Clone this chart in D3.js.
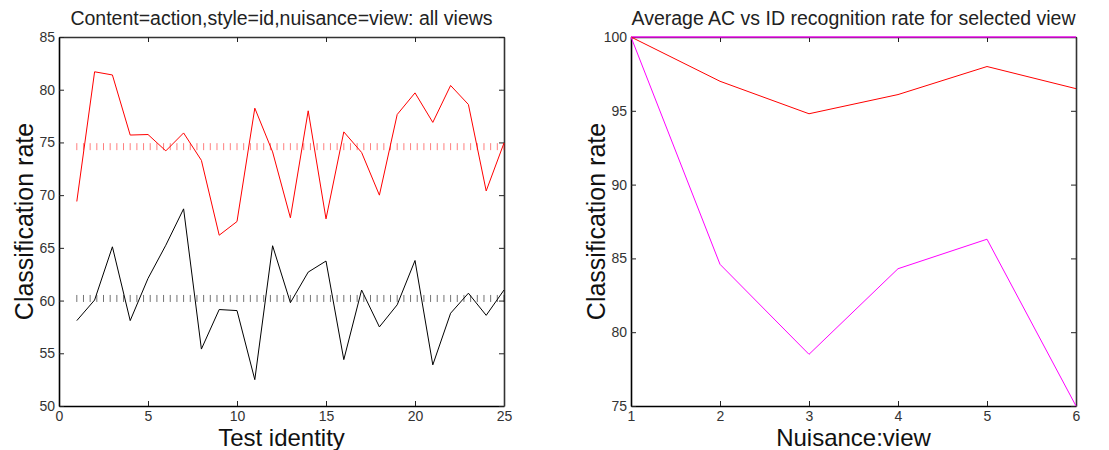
<!DOCTYPE html>
<html>
<head>
<meta charset="utf-8">
<script src="https://cdn.jsdelivr.net/npm/d3@7"></script>
<style>
  body { margin: 0; background: #fff; }
  svg text { font-family: "Liberation Sans", Arial, sans-serif; }
</style>
</head>
<body>
<div id="chart"></div>
<script>
// left panel: per-identity classification rate
const identities = d3.range(1, 26);
const actionRate = [69.4, 81.7, 81.4, 75.7, 75.75, 74.2, 75.9, 73.3, 66.2, 67.5, 78.25, 74.1, 67.85,
    78.0, 67.75, 76.0, 74.05, 70.0, 77.65, 79.7, 76.9, 80.4, 78.6, 70.4, 74.95];
const idRate = [58.1, 60.05, 65.1, 58.1, 62.1, 65.25, 68.7, 55.4, 59.15, 59.05, 52.5, 65.2, 59.8,
    62.7, 63.75, 54.4, 61.0, 57.5, 59.6, 63.8, 53.9, 58.8, 60.7, 58.6, 61.0];
const actionMean = 74.6;
const idMean = 60.2;
const leftTicksX = [0, 5, 10, 15, 20, 25];
const leftTicksY = [50, 55, 60, 65, 70, 75, 80, 85];

// right panel: average rate per view
const views = [1, 2, 3, 4, 5, 6];
const viewActionRate = [100, 97.0, 94.8, 96.1, 98.0, 96.5];
const viewIdRate = [100, 84.6, 78.5, 84.3, 86.3, 75.0];
const viewTopRate = [100, 100, 100, 100, 100, 100];
const rightTicksY = [75, 80, 85, 90, 95, 100];

const W = 1109, H = 450;
const svg = d3.select('#chart').append('svg')
    .attr('width', W)
    .attr('height', H);

function drawPanel(opts) {
    const { left, right, top, bottom, xDomain, yDomain, xTicks, yTicks, title, xLabel, yLabel } = opts;
    const x = d3.scaleLinear().domain(xDomain).range([left, right]);
    const y = d3.scaleLinear().domain(yDomain).range([bottom, top]);
    const g = svg.append('g');

    // box: left/bottom axes plus top/right frame, all with inward ticks
    const tickLen = 5;
    const axes = [
        { ax: d3.axisBottom(x).tickValues(xTicks), t: `translate(0,${bottom})`, labels: true, pad: 5 },
        { ax: d3.axisTop(x).tickValues(xTicks), t: `translate(0,${top})`, labels: false, pad: 5 },
        { ax: d3.axisLeft(y).tickValues(yTicks), t: `translate(${left},0)`, labels: true, pad: 4 },
        { ax: d3.axisRight(y).tickValues(yTicks), t: `translate(${right},0)`, labels: false, pad: 4 }
    ];
    axes.forEach((a, i) => {
        const ag = g.append('g')
            .attr('transform', a.t)
            .call(a.ax.tickSizeInner(-tickLen).tickSizeOuter(0).tickPadding(a.pad).tickFormat(d3.format('d')));
        ag.select('.domain').attr('stroke', i === 0 || i === 2 ? '#000' : '#333').attr('stroke-width', 1.6);
        ag.selectAll('.tick line').attr('stroke', '#222');
        ag.selectAll('.tick text')
            .attr('fill', '#333')
            .attr('font-size', 14)
            .style('display', a.labels ? null : 'none');
    });

    g.append('text')
        .attr('x', (left + right) / 2)
        .attr('y', top - 12)
        .attr('text-anchor', 'middle')
        .attr('font-size', 19.5)
        .attr('fill', '#222')
        .text(title);

    g.append('text')
        .attr('x', (left + right) / 2)
        .attr('y', bottom + 40)
        .attr('text-anchor', 'middle')
        .attr('font-size', 24)
        .attr('fill', '#111')
        .text(xLabel);

    g.append('text')
        .attr('transform', `translate(${left - 26},${(top + bottom) / 2}) rotate(-90)`)
        .attr('text-anchor', 'middle')
        .attr('font-size', 25)
        .attr('fill', '#111')
        .text(yLabel);

    return { g, x, y };
}

// ---- left panel
const L = drawPanel({
    left: 59, right: 504, top: 37, bottom: 406,
    xDomain: [0, 25], yDomain: [50, 85],
    xTicks: leftTicksX, yTicks: leftTicksY,
    title: 'Content=action,style=id,nuisance=view: all views',
    xLabel: 'Test identity',
    yLabel: 'Classification rate'
});

// mean markers drawn as rows of short vertical ticks
const meanSteps = d3.range(1, 25.001, 0.375);
[{ v: actionMean, c: '#ff0000', o: 0.5 }, { v: idMean, c: '#000', o: 0.55 }].forEach(m => {
    L.g.append('g').selectAll('line')
        .data(meanSteps)
        .join('line')
        .attr('x1', d => L.x(d))
        .attr('x2', d => L.x(d))
        .attr('y1', L.y(m.v) - 3.5)
        .attr('y2', L.y(m.v) + 3.5)
        .attr('stroke', m.c)
        .attr('stroke-opacity', m.o)
        .attr('stroke-width', 1);
});

const leftLine = d3.line().x((d, i) => L.x(identities[i])).y(d => L.y(d));
[{ data: actionRate, c: '#ff0000' }, { data: idRate, c: '#000' }].forEach(s => {
    L.g.append('path')
        .datum(s.data)
        .attr('d', leftLine)
        .attr('fill', 'none')
        .attr('stroke', s.c)
        .attr('stroke-width', 1);
});

// ---- right panel
const R = drawPanel({
    left: 631, right: 1076, top: 37, bottom: 406,
    xDomain: [1, 6], yDomain: [75, 100],
    xTicks: views, yTicks: rightTicksY,
    title: 'Average AC vs ID recognition rate for selected view',
    xLabel: 'Nuisance:view',
    yLabel: 'Classification rate'
});

const rightLine = d3.line().x((d, i) => R.x(views[i])).y(d => R.y(d));
[
    { data: viewTopRate, c: '#ff00ff', w: 2, o: 0.65 },
    { data: viewActionRate, c: '#ff0000', w: 1, o: 1 },
    { data: viewIdRate, c: '#ff00ff', w: 1, o: 1 }
].forEach(s => {
    R.g.append('path')
        .datum(s.data)
        .attr('d', rightLine)
        .attr('fill', 'none')
        .attr('stroke', s.c)
        .attr('stroke-opacity', s.o)
        .attr('stroke-width', s.w);
});
</script>
</body>
</html>
